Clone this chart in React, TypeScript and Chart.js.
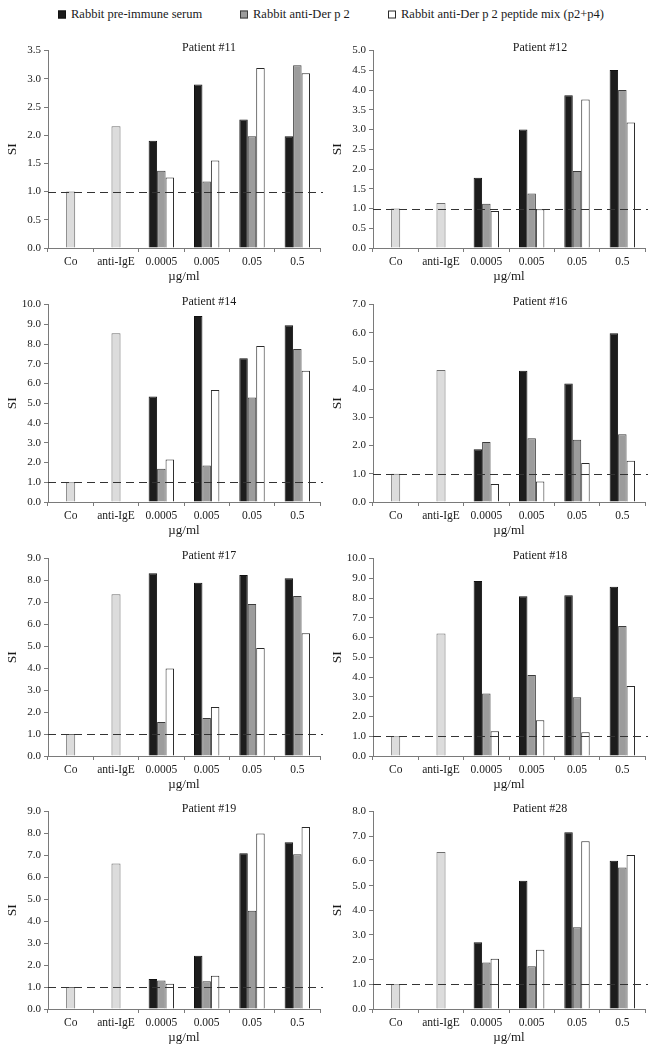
import React, { useEffect, useRef } from "react";
import { Chart, registerables } from "chart.js";

Chart.register(...registerables);

const FONT = '"Liberation Serif", "Times New Roman", serif';
Chart.defaults.font.family = FONT;

// ---------- data ----------
const CATEGORIES = ["Co", "anti-IgE", "0.0005", "0.005", "0.05", "0.5"];
const SERIES_NAMES = [
  "Rabbit pre-immune serum",
  "Rabbit anti-Der p 2",
  "Rabbit anti-Der p 2 peptide mix (p2+p4)",
];
const REFERENCE_SI = 1.0;
const X_TITLE = "µg/ml";
const Y_TITLE = "SI";

// controls = [Co, anti-IgE]; series = values at 0.0005, 0.005, 0.05, 0.5 µg/ml
const p11Controls = [1.0, 2.16];
const p11Pre = [1.9, 2.9, 2.28, 1.98];
const p11Anti = [1.37, 1.18, 1.98, 3.24];
const p11Mix = [1.25, 1.55, 3.19, 3.1];
const p11Axis = [3.5, 0.5];

const p12Controls = [1.0, 1.14];
const p12Pre = [1.78, 3.0, 3.87, 4.51];
const p12Anti = [1.12, 1.38, 1.95, 4.0];
const p12Mix = [0.94, 0.98, 3.76, 3.18];
const p12Axis = [5.0, 0.5];

const p14Controls = [1.0, 8.55];
const p14Pre = [5.35, 9.42, 7.28, 8.95];
const p14Anti = [1.69, 1.85, 5.3, 7.75];
const p14Mix = [2.15, 5.68, 7.9, 6.65];
const p14Axis = [10.0, 1.0];

const p16Controls = [1.0, 4.68];
const p16Pre = [1.87, 4.65, 4.2, 5.98];
const p16Anti = [2.13, 2.26, 2.21, 2.4];
const p16Mix = [0.64, 0.73, 1.38, 1.46];
const p16Axis = [7.0, 1.0];

const p17Controls = [1.0, 7.38];
const p17Pre = [8.33, 7.9, 8.25, 8.1];
const p17Anti = [1.55, 1.73, 6.93, 7.3];
const p17Mix = [3.99, 2.23, 4.92, 5.6];
const p17Axis = [9.0, 1.0];

const p18Controls = [1.0, 6.21];
const p18Pre = [8.87, 8.09, 8.14, 8.57];
const p18Anti = [3.16, 4.1, 2.97, 6.59];
const p18Mix = [1.26, 1.81, 1.2, 3.55];
const p18Axis = [10.0, 1.0];

const p19Controls = [1.0, 6.63];
const p19Pre = [1.37, 2.43, 7.1, 7.6];
const p19Anti = [1.3, 1.26, 4.48, 7.05];
const p19Mix = [1.15, 1.52, 8.0, 8.3];
const p19Axis = [9.0, 1.0];

const p28Controls = [1.0, 6.36];
const p28Pre = [2.71, 5.2, 7.16, 6.01];
const p28Anti = [1.88, 1.73, 3.31, 5.73];
const p28Mix = [2.04, 2.4, 6.8, 6.24];
const p28Axis = [8.0, 1.0];

const PANELS = [
  { title: "Patient #11", controls: p11Controls, pre: p11Pre, anti: p11Anti, mix: p11Mix, axis: p11Axis },
  { title: "Patient #12", controls: p12Controls, pre: p12Pre, anti: p12Anti, mix: p12Mix, axis: p12Axis },
  { title: "Patient #14", controls: p14Controls, pre: p14Pre, anti: p14Anti, mix: p14Mix, axis: p14Axis },
  { title: "Patient #16", controls: p16Controls, pre: p16Pre, anti: p16Anti, mix: p16Mix, axis: p16Axis },
  { title: "Patient #17", controls: p17Controls, pre: p17Pre, anti: p17Anti, mix: p17Mix, axis: p17Axis },
  { title: "Patient #18", controls: p18Controls, pre: p18Pre, anti: p18Anti, mix: p18Mix, axis: p18Axis },
  { title: "Patient #19", controls: p19Controls, pre: p19Pre, anti: p19Anti, mix: p19Mix, axis: p19Axis },
  { title: "Patient #28", controls: p28Controls, pre: p28Pre, anti: p28Anti, mix: p28Mix, axis: p28Axis },
];

// ---------- styles / layout ----------
const COLORS = {
  control: "#dcdcdc",
  controlBorder: "#6e6e6e",
  pre: "#1c1c1c",
  preBorder: "#111111",
  anti: "#9c9c9c",
  antiBorder: "#3c3c3c",
  mix: "#ffffff",
  mixBorder: "#2a2a2a",
  axis: "#7a7a7a",
  text: "#1a1a1a",
};

const CANVAS_W = 330;
const CANVAS_H = 247;
const PAD_TOP = 7;
const PAD_RIGHT = 10;
const Y_AXIS_W = 48;
const X_AXIS_H = 40;
const COL_LEFT = [0, 325];
const ROW_TOP = [48, 302, 556, 809];
const TITLE_X = [209, 540];

const refLinePlugin = {
  id: "refLine",
  afterDatasetsDraw(chart: any) {
    const { ctx, chartArea, scales } = chart;
    const y = Math.round(scales.y.getPixelForValue(REFERENCE_SI)) + 0.5;
    ctx.save();
    ctx.strokeStyle = "#333333";
    ctx.lineWidth = 1;
    ctx.setLineDash([8, 5]);
    ctx.beginPath();
    ctx.moveTo(chartArea.left, y);
    ctx.lineTo(chartArea.right + 3, y);
    ctx.stroke();
    ctx.restore();
  },
};

function Panel({ panel, left, top, titleX }: any) {
  const ref = useRef<HTMLCanvasElement>(null);
  useEffect(() => {
    const pad = (n: number) => Array(n).fill(null);
    const common = { borderWidth: 1, skipNull: true, barPercentage: 1 };
    const chart = new Chart(ref.current as HTMLCanvasElement, {
      type: "bar",
      data: {
        labels: CATEGORIES,
        datasets: [
          {
            label: "Controls",
            data: [...panel.controls, ...pad(4)],
            backgroundColor: COLORS.control,
            borderColor: COLORS.controlBorder,
            categoryPercentage: 0.2,
            ...common,
          },
          {
            label: SERIES_NAMES[0],
            data: [...pad(2), ...panel.pre],
            backgroundColor: COLORS.pre,
            borderColor: COLORS.preBorder,
            categoryPercentage: 0.56,
            ...common,
          },
          {
            label: SERIES_NAMES[1],
            data: [...pad(2), ...panel.anti],
            backgroundColor: COLORS.anti,
            borderColor: COLORS.antiBorder,
            categoryPercentage: 0.56,
            ...common,
          },
          {
            label: SERIES_NAMES[2],
            data: [...pad(2), ...panel.mix],
            backgroundColor: COLORS.mix,
            borderColor: COLORS.mixBorder,
            categoryPercentage: 0.56,
            ...common,
          },
        ] as any,
      },
      options: {
        animation: false,
        responsive: false,
        maintainAspectRatio: false,
        layout: { padding: { top: PAD_TOP, right: PAD_RIGHT, left: 0, bottom: 0 } },
        plugins: { legend: { display: false }, tooltip: { enabled: false }, title: { display: false } },
        scales: {
          x: {
            ticks: {
              autoSkip: false,
              maxRotation: 0,
              padding: 3,
              color: COLORS.text,
              font: { family: FONT, size: 11.5 },
            },
            grid: { drawOnChartArea: false, drawTicks: true, tickLength: 4, color: COLORS.axis, offset: true },
            border: { color: COLORS.axis, width: 1 },
            title: {
              display: true,
              text: X_TITLE,
              color: COLORS.text,
              font: { family: FONT, size: 13 },
              padding: { top: 2, bottom: 4 },
            },
            afterFit: (s: any) => {
              s.height = X_AXIS_H;
            },
          },
          y: {
            min: 0,
            max: panel.axis[0],
            ticks: {
              stepSize: panel.axis[1],
              padding: 3,
              color: COLORS.text,
              font: { family: FONT, size: 11 },
              callback: (v: any) => Number(v).toFixed(1),
            },
            grid: { drawOnChartArea: false, drawTicks: true, tickLength: 4, color: COLORS.axis },
            border: { color: COLORS.axis, width: 1 },
            title: {
              display: true,
              text: Y_TITLE,
              color: COLORS.text,
              font: { family: FONT, size: 13.5 },
              padding: { top: 4, bottom: 0 },
            },
            afterFit: (s: any) => {
              s.width = Y_AXIS_W;
            },
          },
        },
      } as any,
      plugins: [refLinePlugin],
    });
    return () => chart.destroy();
  }, [panel]);

  return (
    <>
      <canvas
        ref={ref}
        width={CANVAS_W}
        height={CANVAS_H}
        style={{ position: "absolute", left, top: top - PAD_TOP, width: CANVAS_W, height: CANVAS_H }}
      />
      <div
        style={{
          position: "absolute",
          left: titleX,
          top: top - 1,
          transform: "translate(-50%, -50%)",
          fontFamily: FONT,
          fontSize: 12,
          color: COLORS.text,
          whiteSpace: "nowrap",
          lineHeight: "14px",
        }}
      >
        {panel.title}
      </div>
    </>
  );
}

const LEGEND_ITEMS = [
  { name: SERIES_NAMES[0], fill: COLORS.pre, border: COLORS.preBorder, x: 58 },
  { name: SERIES_NAMES[1], fill: COLORS.anti, border: COLORS.antiBorder, x: 240 },
  { name: SERIES_NAMES[2], fill: COLORS.mix, border: COLORS.mixBorder, x: 388 },
];

export default function App() {
  return (
    <div
      style={{
        position: "absolute",
        left: 0,
        top: 0,
        width: 659,
        height: 1049,
        overflow: "hidden",
        background: "#ffffff",
        fontFamily: FONT,
      }}
    >
      {LEGEND_ITEMS.map((it) => (
        <div
          key={it.name}
          style={{
            position: "absolute",
            left: it.x,
            top: 14,
            transform: "translateY(-50%)",
            display: "flex",
            alignItems: "center",
            whiteSpace: "nowrap",
            fontSize: 12.5,
            color: COLORS.text,
            lineHeight: "15px",
          }}
        >
          <span
            style={{
              display: "inline-block",
              width: 6,
              height: 6,
              background: it.fill,
              border: `1px solid ${it.border}`,
              marginRight: 5,
            }}
          />
          <span>{it.name}</span>
        </div>
      ))}
      {PANELS.map((p, i) => (
        <Panel
          key={p.title}
          panel={p}
          left={COL_LEFT[i % 2]}
          top={ROW_TOP[Math.floor(i / 2)]}
          titleX={TITLE_X[i % 2]}
        />
      ))}
    </div>
  );
}
